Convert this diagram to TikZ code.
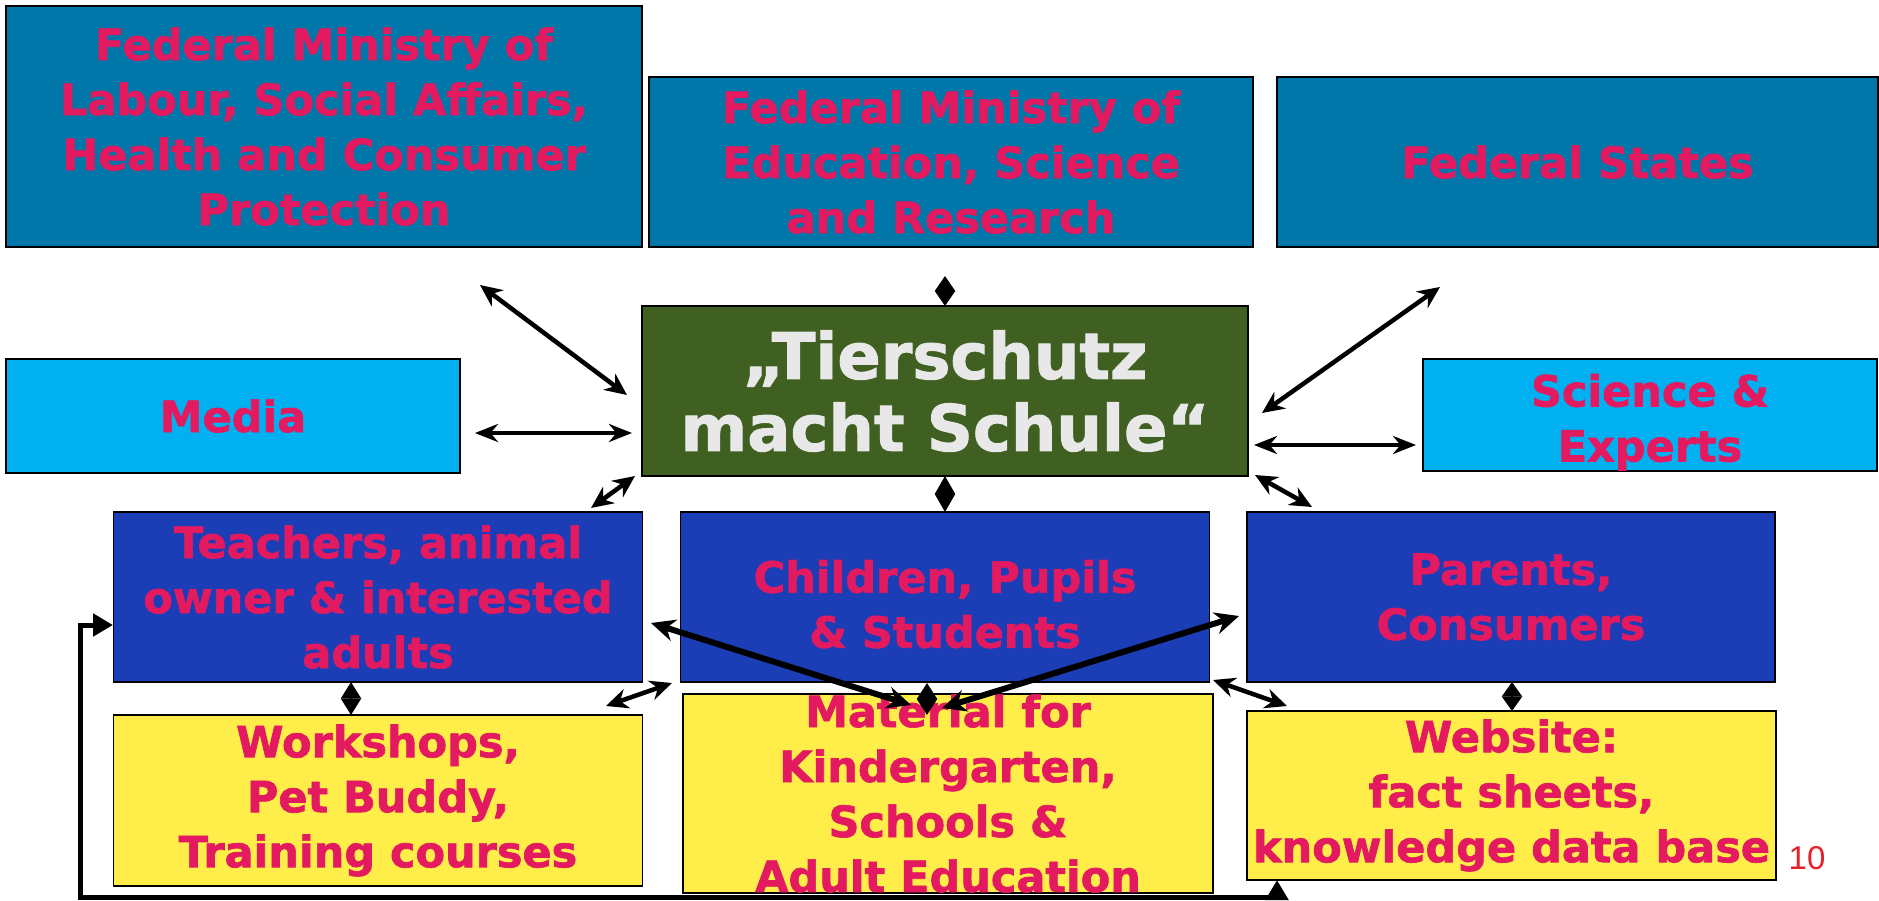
\documentclass[tikz,border=0pt]{standalone}
\usepackage{fontspec}
\setmainfont{DejaVu Sans}[BoldFeatures={FakeBold=1.5}]
\newfontfamily\numfont{Liberation Sans}
\usetikzlibrary{arrows.meta}
\definecolor{topblue}{RGB}{0,119,168}
\definecolor{skyblue}{RGB}{0,176,240}
\definecolor{darkgreen}{RGB}{63,96,32}
\definecolor{royal}{RGB}{27,61,181}
\definecolor{yel}{RGB}{255,237,74}
\definecolor{pinktext}{RGB}{228,26,96}
\definecolor{greytext}{RGB}{232,232,232}
\definecolor{numred}{RGB}{232,32,42}
\newcommand{\lowstrut}{\rule{0pt}{47pt}}
\tikzset{
  box/.style={draw=black, line width=1.5pt, inner sep=0pt, align=center,
    font=\bfseries\fontsize{43}{55}\selectfont, text=pinktext},
  topbox/.style={box, fill=topblue},
  lightbox/.style={box, fill=skyblue},
  bluebox/.style={box, fill=royal},
  yelbox/.style={box, fill=yel},
  conn/.style={line width=4.5pt, {Stealth[length=22pt,width=20pt]}-{Stealth[length=22pt,width=20pt]}},
  thick conn/.style={line width=6pt, {Stealth[length=24pt,width=22pt]}-{Stealth[length=24pt,width=22pt]}},
  flat conn/.style={line width=4pt, {Stealth[length=23pt,width=18pt]}-{Stealth[length=23pt,width=18pt]}},
  diam/.style={line width=2pt, {Triangle[length=#1,width=20pt]}-{Triangle[length=#1,width=20pt]}},
  loop conn/.style={line width=5pt, {Triangle[length=20pt,width=22pt]}-{Triangle[length=20pt,width=22pt]}}
}
\begin{document}
\begin{tikzpicture}[x=1pt,y=-1pt]
\useasboundingbox (0,0) rectangle (1879,900);
% boxes
\node[topbox, minimum width=636pt, minimum height=241pt] (lab) at (324,126.5)
  {Federal Ministry of\\Labour, Social Affairs,\\Health and Consumer\\Protection};
\node[topbox, minimum width=604pt, minimum height=170pt] (edu) at (951,162)
  {Federal Ministry of\\Education, Science\\and Research};
\node[topbox, minimum width=601pt, minimum height=170pt] (fst) at (1577.5,162)
  {Federal States};
\node[lightbox, minimum width=454pt, minimum height=114pt] (media) at (233,416)
  {Media};
\node[box, fill=darkgreen, text=greytext, minimum width=606pt, minimum height=170pt,
  font=\bfseries\fontsize{64}{72}\selectfont] (tier) at (945,391)
  {„Tierschutz\\macht Schule“};
\node[lightbox, minimum width=454pt, minimum height=112pt] (sci) at (1650,415)
  {\lowstrut Science \&\\Experts};
\node[bluebox, minimum width=529pt, minimum height=170pt] (teach) at (378,597)
  {Teachers, animal\\owner \& interested\\adults};
\node[bluebox, minimum width=529pt, minimum height=170pt] (child) at (945,597)
  {\lowstrut Children, Pupils\\\& Students};
\node[bluebox, minimum width=528pt, minimum height=170pt] (par) at (1511,597)
  {Parents,\\Consumers};
\node[yelbox, minimum width=529pt, minimum height=171pt] (work) at (378,800.5)
  {Workshops,\\Pet Buddy,\\Training courses};
\node[yelbox, minimum width=530pt, minimum height=199pt] (mat) at (948,793.5)
  {Material for\\Kindergarten,\\Schools \&\\Adult Education};
\node[yelbox, minimum width=529pt, minimum height=169pt] (web) at (1511.5,795.5)
  {Website:\\fact sheets,\\knowledge data base};
\node[text=numred, font=\numfont\fontsize{33}{36}\selectfont, inner sep=0pt] (pg) at (1807,858) {10};
% connector end points
\coordinate (labE) at (480,285);   \coordinate (tierLab) at (627,395);
\coordinate (fstE) at (1440,287);  \coordinate (tierFst) at (1262,413);
\coordinate (mediaE) at (475,433); \coordinate (tierMedia) at (632,433);
\coordinate (sciE) at (1416,445);  \coordinate (tierSci) at (1254,445);
\coordinate (teachE) at (591,508); \coordinate (tierTeach) at (635,476);
\coordinate (parE) at (1312,507);  \coordinate (tierPar) at (1255,475);
\coordinate (teachM) at (651,623); \coordinate (matT) at (911,705);
\coordinate (parM) at (1239,616);  \coordinate (matP) at (942,708);
\coordinate (workC) at (606,706);  \coordinate (childW) at (672,683);
\coordinate (childWeb) at (1213,680); \coordinate (webC) at (1287,706);
\coordinate (eduB) at (945,276);   \coordinate (tierT) at (945,306);
\coordinate (tierB) at (945,476);  \coordinate (childT) at (945,512);
\coordinate (teachB) at (351,682); \coordinate (workT) at (351,715);
\coordinate (childB) at (927,683); \coordinate (matTop) at (927,715);
\coordinate (parB) at (1512,682);  \coordinate (webT) at (1512,711);
\coordinate (webB) at (1277,880);  \coordinate (loopA) at (1277,897);
\coordinate (loopB) at (80,897);   \coordinate (loopC) at (80,625);
\coordinate (teachL) at (113,625);
% connectors
\draw[conn] (labE) -- (tierLab);
\draw[conn] (fstE) -- (tierFst);
\draw[flat conn] (mediaE) -- (tierMedia);
\draw[flat conn] (sciE) -- (tierSci);
\draw[conn] (teachE) -- (tierTeach);
\draw[conn] (parE) -- (tierPar);
\draw[thick conn] (teachM) -- (matT);
\draw[thick conn] (parM) -- (matP);
\draw[conn] (workC) -- (childW);
\draw[conn] (childWeb) -- (webC);
\draw[diam=15pt] (eduB) -- (tierT);
\draw[diam=18pt] (tierB) -- (childT);
\draw[diam=16.5pt] (teachB) -- (workT);
\draw[diam=16pt] (childB) -- (matTop);
\draw[diam=14.5pt] (parB) -- (webT);
\draw[loop conn] (webB) -- (loopA) -- (loopB) -- (loopC) -- (teachL);
\end{tikzpicture}
\end{document}
